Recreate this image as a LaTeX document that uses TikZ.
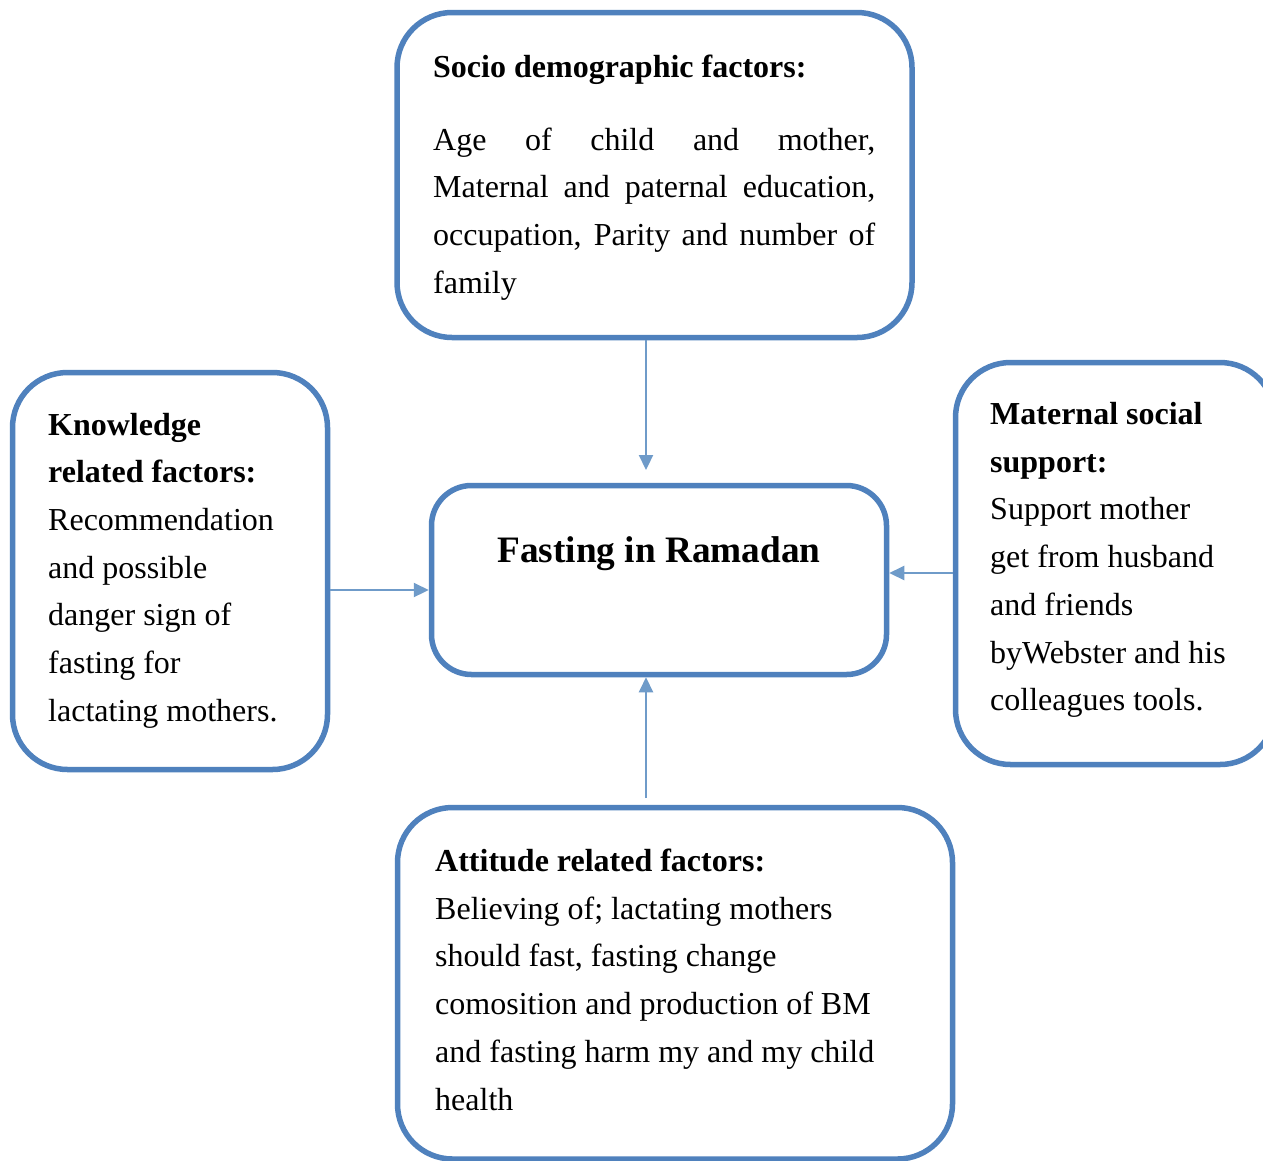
\documentclass[tikz,border=0pt]{standalone}
\usepackage{fontspec}
\setmainfont{Liberation Serif}
\usetikzlibrary{arrows.meta}
\definecolor{boxblue}{HTML}{4F81BD}
\definecolor{arrblue}{HTML}{6F9BC9}
\begin{document}
\begin{tikzpicture}[x=1pt,y=-1pt,
  box/.style={draw=boxblue,line width=5.5pt,rounded corners=55pt,inner sep=0pt},
  arr/.style={draw=arrblue,line width=2.2pt,-{Triangle[length=15pt,width=14pt]}},
  txt/.style={anchor=base west,inner sep=0pt,font=\fontsize{32}{47.7}\selectfont}]
\clip (0,0) rectangle (1263,1160);
\fill[white] (0,0) rectangle (1263,1160);

% boxes
\node[box,minimum width=515,minimum height=325] (socio) at (654.5,175) {};
\node[box,minimum width=315,minimum height=397] (know) at (170,571) {};
\node[box,rounded corners=40pt,minimum width=455,minimum height=189] (fast) at (659,580) {};
\node[box,minimum width=319.5,minimum height=402] (supp) at (1115.25,563.5) {};
\node[box,minimum width=555,minimum height=351.5] (att) at (675,983.25) {};

% texts
\node[txt] (sociot) at (433,77) {\parbox[t]{460pt}{\textbf{Socio demographic factors:}\\[25.3pt]
\makebox[442pt][s]{Age of child and mother,}\\
\makebox[442pt][s]{Maternal and paternal education,}\\
\makebox[442pt][s]{occupation, Parity and number of}\\
family}};
\node[txt] (knowt) at (48,435) {\parbox[t]{270pt}{\raggedright\textbf{Knowledge}\\
\textbf{related factors:}\\
Recommendation\\
and possible\\
danger sign of\\
fasting for\\
lactating mothers.}};
\node[txt] (suppt) at (990,424.5) {\parbox[t]{270pt}{\raggedright\textbf{Maternal social}\\
\textbf{support:}\\
Support mother\\
get from husband\\
and friends\\
byWebster and his\\
colleagues tools.}};
\node[txt] (attt) at (435,871.5) {\parbox[t]{500pt}{\raggedright\textbf{Attitude related factors:}\\
Believing of; lactating mothers\\
should fast, fasting change\\
comosition and production of BM\\
and fasting harm my and my child\\
health}};
\node[anchor=base,inner sep=0pt,font=\fontsize{37.3}{44}\selectfont\bfseries] (fastt) at (659,562) {Fasting in Ramadan};

% connectors
\coordinate (t1) at (646,470);
\draw[arr] (socio.south -| t1) -- (t1);
\coordinate (l1) at (0,590);
\draw[arr] (know.east |- l1) -- (fast.west |- l1);
\coordinate (r1) at (0,573);
\draw[arr] (supp.west |- r1) -- (fast.east |- r1);
\coordinate (b1) at (646,798);
\draw[arr] (b1) -- (fast.south -| b1);
\end{tikzpicture}
\end{document}
